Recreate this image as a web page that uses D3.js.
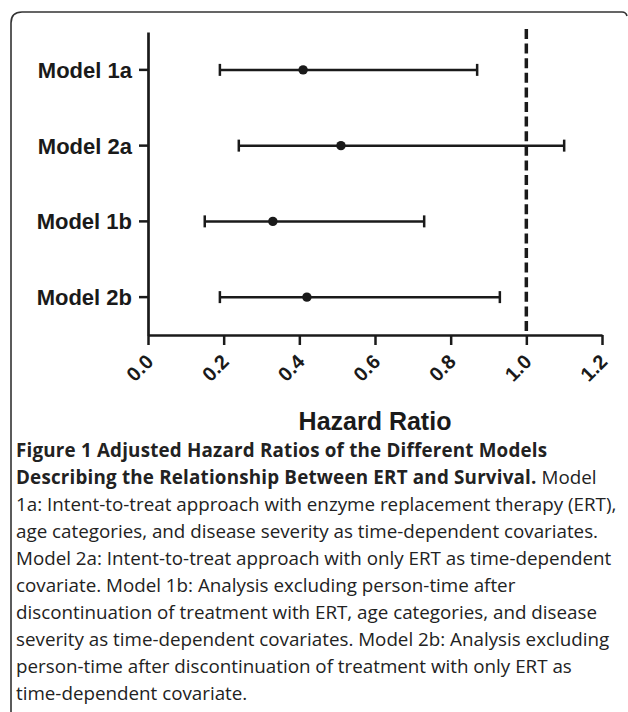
<!DOCTYPE html>
<html>
<head>
<meta charset="utf-8">
<script src="https://cdn.jsdelivr.net/npm/d3@7"></script>
<style>
  html, body { margin: 0; padding: 0; background: #fff; }
  svg { display: block; }
</style>
</head>
<body>
<svg id="chart" width="628" height="712"></svg>
<script>
// ---- data ----
const models = ["Model 1a", "Model 2a", "Model 1b", "Model 2b"];
const hazardRatio = [0.41, 0.51, 0.33, 0.42];
const lowerCI = [0.19, 0.24, 0.15, 0.19];
const upperCI = [0.87, 1.10, 0.73, 0.93];
const xTicks = [0.0, 0.2, 0.4, 0.6, 0.8, 1.0, 1.2];
const referenceValue = 1.0;
const xTitle = "Hazard Ratio";
const captionLines = [
  [["Figure 1 ", 700], ["Adjusted Hazard Ratios of the Different Models", 700]],
  [["Describing the Relationship Between ERT and Survival.", 700], [" Model", 400]],
  [["1a: Intent-to-treat approach with enzyme replacement therapy (ERT),", 400]],
  [["age categories, and disease severity as time-dependent covariates.", 400]],
  [["Model 2a: Intent-to-treat approach with only ERT as time-dependent", 400]],
  [["covariate. Model 1b: Analysis excluding person-time after", 400]],
  [["discontinuation of treatment with ERT, age categories, and disease", 400]],
  [["severity as time-dependent covariates. Model 2b: Analysis excluding", 400]],
  [["person-time after discontinuation of treatment with only ERT as", 400]],
  [["time-dependent covariate.", 400]]
];

const rows = models.map((m, i) => ({ model: m, hr: hazardRatio[i], lo: lowerCI[i], hi: upperCI[i] }));

// ---- layout ----
const svg = d3.select("#chart");
const plot = { left: 148, right: 602, top: 32, bottom: 335 };
const ink = "#1a1a1a";
const chartFont = "'Liberation Sans', Arial, Helvetica, sans-serif";
const captionFont = "'Open Sans', Lato, sans-serif";

// frame (top + left, rounded corner)
svg.append("path")
  .attr("d", "M11,712 V23 Q11,12 22,12 H622 Q626,12 627,16")
  .attr("fill", "none").attr("stroke", "#333").attr("stroke-width", 1.6);

const x = d3.scaleLinear().domain([0, 1.2]).range([plot.left, plot.right]);
const y = d3.scaleBand().domain(models).range([plot.top, plot.bottom]).padding(0);

// y axis
const gy = svg.append("g")
  .attr("transform", `translate(${plot.left},0)`)
  .call(d3.axisLeft(y).tickSize(9).tickSizeOuter(0).tickPadding(7));
gy.select(".domain").attr("stroke", ink).attr("stroke-width", 2.7);
gy.selectAll(".tick line").attr("stroke", ink).attr("stroke-width", 2.5);
gy.selectAll(".tick text")
  .attr("font-family", chartFont).attr("font-weight", "bold").attr("font-size", 22)
  .attr("fill", ink).attr("dy", "0.36em");

// x axis
const gx = svg.append("g")
  .attr("transform", `translate(0,${plot.bottom})`)
  .call(d3.axisBottom(x).tickValues(xTicks).tickFormat(d3.format(".1f")).tickSize(10).tickSizeOuter(0));
gx.select(".domain").attr("stroke", ink).attr("stroke-width", 2.7);
gx.selectAll(".tick line").attr("stroke", ink).attr("stroke-width", 2.5);
gx.selectAll(".tick text")
  .attr("font-family", chartFont).attr("font-weight", "bold").attr("font-size", 20)
  .attr("fill", ink)
  .attr("x", 0).attr("y", 0).attr("dy", 0)
  .attr("text-anchor", "end")
  .attr("transform", "translate(6,28) rotate(-45)");

// x axis title
svg.append("text")
  .attr("x", (plot.left + plot.right) / 2).attr("y", 430)
  .attr("text-anchor", "middle")
  .attr("font-family", chartFont).attr("font-weight", "bold").attr("font-size", 25)
  .attr("fill", ink).text(xTitle);

// reference line
svg.append("line")
  .attr("x1", x(referenceValue)).attr("x2", x(referenceValue))
  .attr("y1", 29).attr("y2", plot.bottom)
  .attr("stroke", ink).attr("stroke-width", 3.5).attr("stroke-dasharray", "10,4.6");

// error bars
const g = svg.append("g").selectAll("g").data(rows).join("g")
  .attr("transform", d => `translate(0,${y(d.model) + y.bandwidth() / 2})`);
g.append("line")
  .attr("x1", d => x(d.lo)).attr("x2", d => x(d.hi))
  .attr("stroke", ink).attr("stroke-width", 2.5);
g.append("line")
  .attr("x1", d => x(d.lo)).attr("x2", d => x(d.lo))
  .attr("y1", -6).attr("y2", 6)
  .attr("stroke", ink).attr("stroke-width", 2.5);
g.append("line")
  .attr("x1", d => x(d.hi)).attr("x2", d => x(d.hi))
  .attr("y1", -6).attr("y2", 6)
  .attr("stroke", ink).attr("stroke-width", 2.5);
g.append("circle")
  .attr("cx", d => x(d.hr)).attr("cy", 0).attr("r", 4.7)
  .attr("fill", ink);

// caption
const cap = svg.append("g");
captionLines.forEach((parts, i) => {
  const t = cap.append("text")
    .attr("x", 16).attr("y", 457 + i * 27)
    .attr("font-family", captionFont).attr("font-size", 18.8).attr("fill", "#222");
  parts.forEach(([s, w]) => t.append("tspan")
    .attr("font-weight", w)
    .attr("letter-spacing", w >= 600 ? 0.2 : 0)
    .text(s));
});
</script>
</body>
</html>
